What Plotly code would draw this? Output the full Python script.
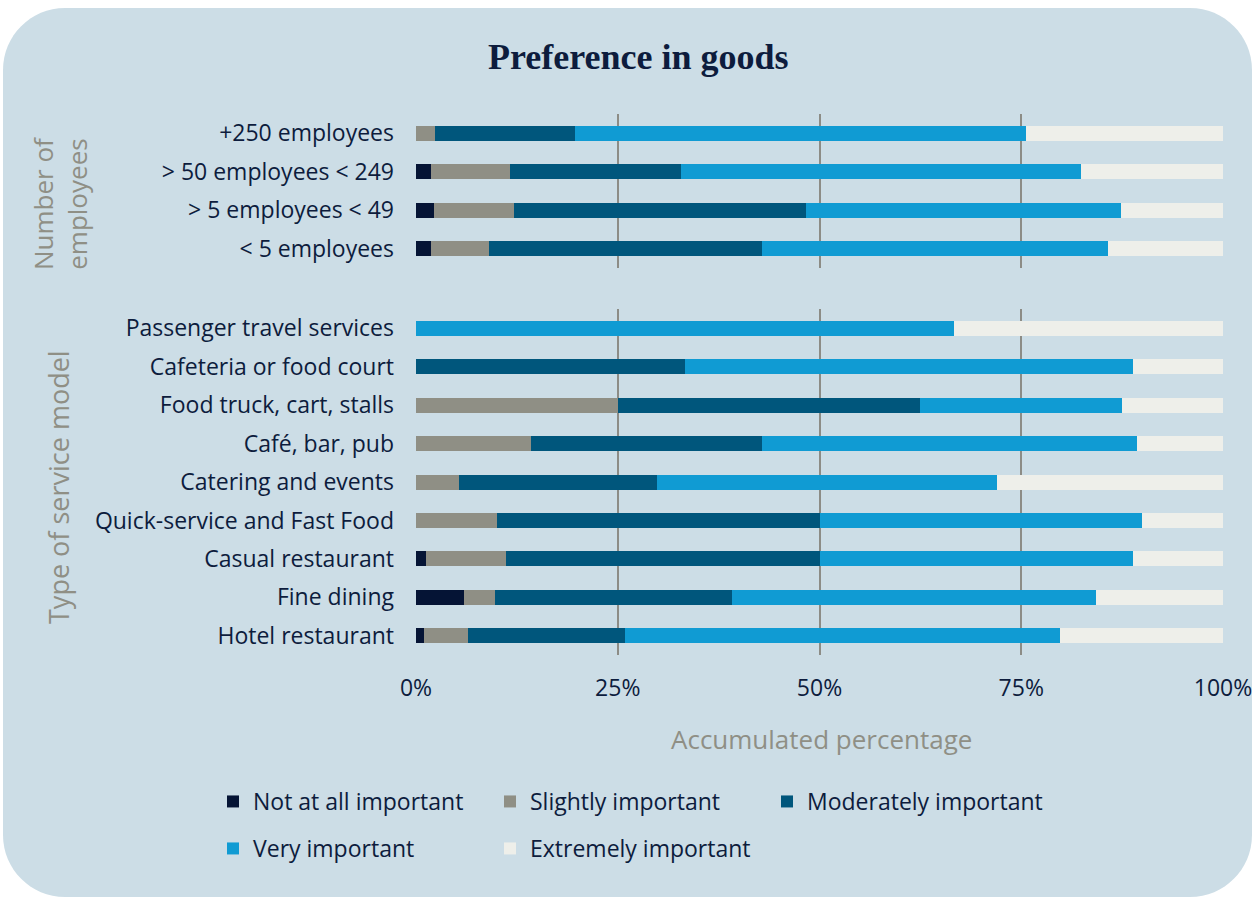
import plotly.graph_objects as go

# ---------------- data ----------------
levels = ["Not at all important", "Slightly important", "Moderately important",
          "Very important", "Extremely important"]
colors = ["#051435", "#8f8f85", "#00567c", "#109bd3", "#eeefea"]

emp_cats = ["+250 employees", "> 50 employees < 249", "> 5 employees < 49", "< 5 employees"]
emp_not = [0.0, 1.8, 2.2, 1.8]
emp_slight = [2.4, 9.8, 9.9, 7.2]
emp_moderate = [17.3, 21.2, 36.2, 33.9]
emp_very = [55.9, 49.6, 39.1, 42.8]
emp_extreme = [24.4, 17.6, 12.6, 14.3]

svc_cats = ["Passenger travel services", "Cafeteria or food court", "Food truck, cart, stalls",
            "Café, bar, pub", "Catering and events", "Quick-service and Fast Food",
            "Casual restaurant", "Fine dining", "Hotel restaurant"]
svc_not = [0.0, 0.0, 0.0, 0.0, 0.0, 0.0, 1.2, 5.9, 1.0]
svc_slight = [0.0, 0.0, 25.0, 14.3, 5.3, 10.0, 10.0, 3.9, 5.5]
svc_moderate = [0.0, 33.3, 37.5, 28.6, 24.6, 40.0, 38.8, 29.4, 19.4]
svc_very = [66.7, 55.6, 25.0, 46.4, 42.1, 40.0, 38.8, 45.1, 53.9]
svc_extreme = [33.3, 11.1, 12.5, 10.7, 28.0, 10.0, 11.2, 15.7, 20.2]

x_ticks = [0, 25, 50, 75, 100]
x_ticklabels = ["0%", "25%", "50%", "75%", "100%"]

# ---------------- layout geometry (pixels) ----------------
W, H = 1255, 899
L, R, T, B = 416, 1223, 114, 655
pw, ph = R - L, B - T


def px(x):
    return (x - L) / pw


def py(y):
    return (B - y) / ph


FONT = "Open Sans"
NAVY = "#0d1c3d"
GRAY = "#8f8f85"
BG = "#ccdde6"
GRID = "#8c8c86"
FS = 23

fig = go.Figure()

emp_series = [emp_not, emp_slight, emp_moderate, emp_very, emp_extreme]
svc_series = [svc_not, svc_slight, svc_moderate, svc_very, svc_extreme]

for i, name in enumerate(levels):
    fig.add_trace(go.Bar(
        y=emp_cats, x=emp_series[i], name=name, orientation="h",
        marker=dict(color=colors[i], line=dict(width=0)),
        xaxis="x", yaxis="y", showlegend=False, legendgroup=name,
    ))
for i, name in enumerate(levels):
    fig.add_trace(go.Bar(
        y=svc_cats, x=svc_series[i], name=name, orientation="h",
        marker=dict(color=colors[i], line=dict(width=0)),
        xaxis="x2", yaxis="y2", legendgroup=name,
        legend="legend" if i < 3 else "legend2",
    ))

# rounded background
x0, x1, y0, y1, r = 3, 1252, 8, 897, 62
k = 0.5523 * r


def P(x, y):
    return f"{px(x):.5f},{py(y):.5f}"


path = (
    f"M{P(x0 + r, y0)} L{P(x1 - r, y0)} "
    f"C{P(x1 - r + k, y0)} {P(x1, y0 + r - k)} {P(x1, y0 + r)} "
    f"L{P(x1, y1 - r)} "
    f"C{P(x1, y1 - r + k)} {P(x1 - r + k, y1)} {P(x1 - r, y1)} "
    f"L{P(x0 + r, y1)} "
    f"C{P(x0 + r - k, y1)} {P(x0, y1 - r + k)} {P(x0, y1 - r)} "
    f"L{P(x0, y0 + r)} "
    f"C{P(x0, y0 + r - k)} {P(x0 + r - k, y0)} {P(x0 + r, y0)} Z"
)

axis_common = dict(
    range=[0, 100], tickvals=x_ticks, showgrid=True, gridcolor=GRID, gridwidth=2,
    zeroline=False, showline=False, fixedrange=True, automargin=False,
)
tick_font = dict(size=FS, color=NAVY, family=FONT)

fig.update_layout(
    width=W, height=H,
    margin=dict(l=L, r=W - R, t=T, b=H - B, autoexpand=False),
    paper_bgcolor="white", plot_bgcolor="rgba(0,0,0,0)",
    barmode="stack", bargap=0.61,
    font=dict(family=FONT, color=NAVY, size=FS),
    xaxis=dict(**axis_common, anchor="y", domain=[0, 1], showticklabels=False),
    yaxis=dict(domain=[py(268), 1], categoryorder="array", categoryarray=emp_cats,
               autorange="reversed", showgrid=False, ticks="", ticklabelstandoff=21,
               tickfont=tick_font, automargin=False),
    xaxis2=dict(**axis_common, anchor="y2", domain=[0, 1], ticktext=x_ticklabels,
                ticks="", ticklabelstandoff=17, tickfont=tick_font),
    yaxis2=dict(domain=[0, py(309)], categoryorder="array", categoryarray=svc_cats,
                autorange="reversed", showgrid=False, ticks="", ticklabelstandoff=21,
                tickfont=tick_font, automargin=False),
    legend=dict(orientation="h", x=px(213), y=py(780), xanchor="left", yanchor="top",
                entrywidth=232, entrywidthmode="pixels", bgcolor="rgba(0,0,0,0)",
                font=dict(size=FS, color=NAVY, family=FONT), traceorder="normal"),
    legend2=dict(orientation="h", x=px(213), y=py(827), xanchor="left", yanchor="top",
                 entrywidth=232, entrywidthmode="pixels", bgcolor="rgba(0,0,0,0)",
                 font=dict(size=FS, color=NAVY, family=FONT), traceorder="normal"),
    shapes=[dict(type="path", path=path, xref="paper", yref="paper",
                 fillcolor=BG, line=dict(width=0), layer="below")],
    annotations=[
        dict(text="<b>Preference in goods</b>", x=px(638), y=py(57), xref="paper", yref="paper",
             showarrow=False, font=dict(family="Liberation Serif", size=36, color=NAVY),
             xanchor="center", yanchor="middle"),
        dict(text="Number of<br>employees", x=px(60), y=py(204), xref="paper", yref="paper",
             showarrow=False, textangle=-90, font=dict(family=FONT, size=26, color=GRAY),
             xanchor="center", yanchor="middle"),
        dict(text="Type of service model", x=px(58), y=py(487), xref="paper", yref="paper",
             showarrow=False, textangle=-90, font=dict(family=FONT, size=27, color=GRAY),
             xanchor="center", yanchor="middle"),
        dict(text="Accumulated percentage", x=px(821), y=py(739), xref="paper", yref="paper",
             showarrow=False, font=dict(family=FONT, size=26, color=GRAY),
             xanchor="center", yanchor="middle"),
    ],
)

fig.write_html("out.html")
